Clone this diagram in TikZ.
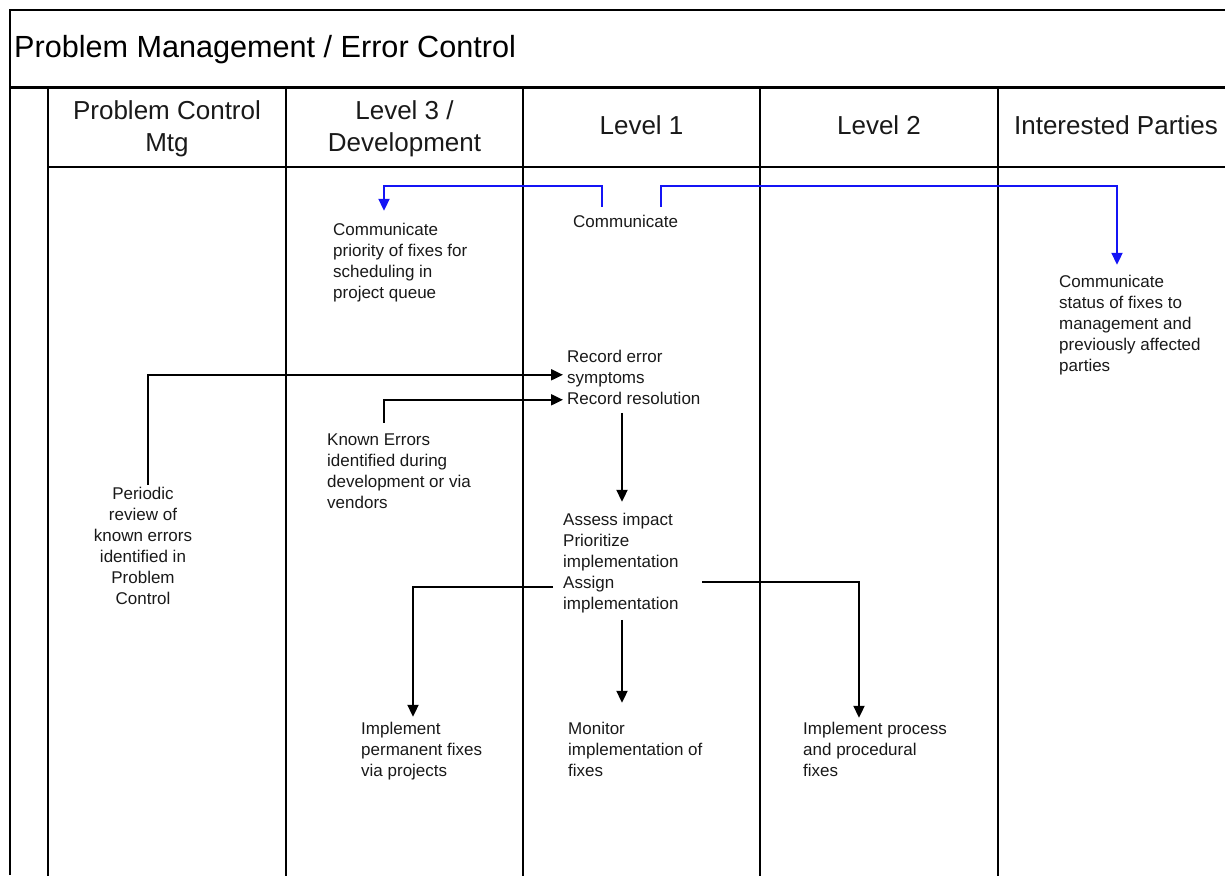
\documentclass[tikz,border=0pt]{standalone}
\usepackage{fontspec}
\setmainfont{Liberation Sans}
\usetikzlibrary{arrows.meta}
\definecolor{flowblue}{RGB}{20,20,245}
\definecolor{txt}{RGB}{25,25,25}
\begin{document}
\begin{tikzpicture}[x=1pt,y=-1pt,
  grid/.style={line width=2pt,black},
  titletxt/.style={font=\fontsize{30.6}{34}\selectfont,anchor=base west,inner sep=0pt},
  headtxt/.style={font=\fontsize{26}{32}\selectfont,align=center,inner sep=0pt,text=txt},
  bodytxt/.style={font=\fontsize{17}{21}\selectfont,align=left,anchor=north west,inner sep=0pt,text=txt},
  ctrtxt/.style={font=\fontsize{17}{21}\selectfont,align=center,anchor=north,inner sep=0pt,text=txt},
  flow/.style={line width=2pt,black,-{Triangle[length=12pt,width=11pt]}},
  blueflow/.style={line width=2pt,flowblue,-{Triangle[length=12pt,width=11pt]}}]
\useasboundingbox (0,0) rectangle (1225,875);
% frame and lanes
\draw[grid] (10,875) -- (10,10) -- (1226,10);
\draw[line width=3pt] (10,87) -- (1226,87);
\draw[grid] (48,167) -- (1226,167);
\foreach \xx in {48,286,523,760,998}{\draw[grid] (\xx,87) -- (\xx,876);}
% title
\node[titletxt] (title) at (14,57) {Problem Management / Error Control};
% headers
\node[headtxt,anchor=north] (h1) at (167,100) {Problem Control\\Mtg};
\node[headtxt,anchor=north] (h2) at (404.5,100) {Level 3 /\\Development};
\node[headtxt,anchor=base] (h3) at (641.5,134.5) {Level 1};
\node[headtxt,anchor=base] (h4) at (879,134.5) {Level 2};
\node[headtxt,anchor=base] (h5) at (1116,134.5) {Interested Parties};
% body texts
\node[bodytxt] (prio) at (333,222.8) {Communicate\\priority of fixes for\\scheduling in\\project queue};
\node[bodytxt] (comm) at (573,214.8) {Communicate};
\node[bodytxt] (status) at (1059,274.8) {Communicate\\status of fixes to\\management and\\previously affected\\parties};
\node[bodytxt] (rec) at (567,349.8) {Record error\\symptoms\\Record resolution};
\node[bodytxt] (known) at (327,433.8) {Known Errors\\identified during\\development or via\\vendors};
\node[ctrtxt] (periodic) at (143,486.8) {Periodic\\review of\\known errors\\identified in\\Problem\\Control};
\node[bodytxt] (assess) at (563,512.8) {Assess impact\\Prioritize\\implementation\\Assign\\implementation};
\node[bodytxt] (impl) at (361,721.8) {Implement\\permanent fixes\\via projects};
\node[bodytxt] (monitor) at (568,721.8) {Monitor\\implementation of\\fixes};
\node[bodytxt] (proc) at (803,721.8) {Implement process\\and procedural\\fixes};
% blue connectors
\draw[blueflow] ([xshift=29pt,yshift=8pt]comm.north west) -- ++(0,-21) -| ([xshift=51pt,yshift=12pt]prio.north west);
\draw[blueflow] ([xshift=88pt,yshift=8pt]comm.north west) -- ++(0,-21) -| ([xshift=58pt,yshift=10pt]status.north west);
% black connectors
\draw[flow] ([xshift=5pt,yshift=2pt]periodic.north) |- ([xshift=-4pt,yshift=-25pt]rec.north west);
\draw[flow] ([xshift=57pt,yshift=11pt]known.north west) |- ([xshift=-4pt,yshift=-50pt]rec.north west);
\draw[flow] ([xshift=55pt,yshift=-63pt]rec.north west) -- ([xshift=59pt,yshift=11pt]assess.north west);
\draw[flow] ([xshift=-10pt,yshift=-74pt]assess.north west) -| ([xshift=52pt,yshift=5pt]impl.north west);
\draw[flow] ([xshift=139pt,yshift=-69pt]assess.north west) -| ([xshift=56pt,yshift=4pt]proc.north west);
\draw[flow] ([xshift=59pt,yshift=-107pt]assess.north west) -- ([xshift=54pt,yshift=19pt]monitor.north west);
\end{tikzpicture}
\end{document}
